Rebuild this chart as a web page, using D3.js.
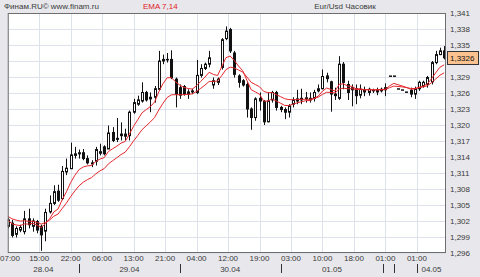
<!DOCTYPE html>
<html>
<head>
<meta charset="utf-8">
<script src="https://cdnjs.cloudflare.com/ajax/libs/d3/7.8.5/d3.min.js"></script>
<style>
  body { margin: 0; background: #e8e8ec; }
  svg { display: block; font-family: "Liberation Sans", Arial, sans-serif; }
  .grid line { stroke: #dde1ec; shape-rendering: crispEdges; }
  .lbl { font-size: 8px; fill: #3a3a3a; }
</style>
</head>
<body>
<div class="chartWrap"></div>
<script>
//Data - hourly EUR/USD candles, 28.04 07:00 .. 04.05
const open  = [1.3010,1.3016,1.2995,1.3003,1.3000,1.3024,1.3010,1.3019,1.3010,1.3001,1.3037,1.3053,1.3076,1.3062,1.3112,1.3118,1.3143,1.3146,1.3148,1.3137,1.3129,1.3132,1.3147,1.3159,1.3155,1.3186,1.3173,1.3180,1.3183,1.3180,1.3224,1.3239,1.3245,1.3261,1.3249,1.3252,1.3267,1.3320,1.3323,1.3323,1.3286,1.3270,1.3272,1.3258,1.3262,1.3261,1.3293,1.3306,1.3314,1.3275,1.3280,1.3308,1.3362,1.3379,1.3335,1.3292,1.3283,1.3276,1.3230,1.3214,1.3250,1.3244,1.3206,1.3247,1.3261,1.3233,1.3229,1.3224,1.3239,1.3245,1.3247,1.3249,1.3250,1.3250,1.3264,1.3268,1.3292,1.3281,1.3258,1.3250,1.3314,1.3276,1.3266,1.3268,1.3256,1.3266,1.3261,1.3264,1.3262,1.3264,1.3266,1.3292,1.3292,1.3268,1.3266,1.3262,1.3265,1.3258,1.3268,1.3273,1.3276,1.3281,1.3317,1.3332,1.3339];
const high  = [1.3026,1.3022,1.3010,1.3013,1.3039,1.3043,1.3025,1.3022,1.3013,1.3043,1.3068,1.3087,1.3088,1.3123,1.3137,1.3167,1.3159,1.3154,1.3155,1.3143,1.3134,1.3159,1.3165,1.3162,1.3199,1.3196,1.3213,1.3205,1.3193,1.3227,1.3249,1.3255,1.3280,1.3264,1.3261,1.3273,1.3339,1.3332,1.3335,1.3340,1.3289,1.3276,1.3275,1.3267,1.3268,1.3322,1.3314,1.3317,1.3339,1.3289,1.3289,1.3363,1.3385,1.3382,1.3339,1.3295,1.3286,1.3280,1.3233,1.3252,1.3261,1.3247,1.3261,1.3264,1.3264,1.3236,1.3233,1.3239,1.3252,1.3266,1.3268,1.3262,1.3261,1.3266,1.3276,1.3304,1.3298,1.3283,1.3270,1.3329,1.3318,1.3283,1.3276,1.3276,1.3276,1.3272,1.3270,1.3268,1.3270,1.3270,1.3278,1.3292,1.3292,1.3268,1.3266,1.3262,1.3270,1.3272,1.3283,1.3283,1.3292,1.3320,1.3339,1.3345,1.3348];
const low   = [1.3006,1.2989,1.2989,1.2999,1.2995,1.3006,1.3000,1.2997,1.2964,1.2982,1.3034,1.3050,1.3056,1.3059,1.3106,1.3118,1.3137,1.3137,1.3134,1.3126,1.3121,1.3124,1.3143,1.3143,1.3155,1.3168,1.3168,1.3171,1.3171,1.3171,1.3221,1.3236,1.3242,1.3244,1.3224,1.3242,1.3264,1.3314,1.3317,1.3286,1.3233,1.3249,1.3255,1.3249,1.3258,1.3258,1.3289,1.3303,1.3308,1.3268,1.3275,1.3304,1.3359,1.3335,1.3289,1.3270,1.3272,1.3214,1.3191,1.3208,1.3227,1.3200,1.3205,1.3242,1.3227,1.3224,1.3211,1.3214,1.3233,1.3239,1.3239,1.3242,1.3242,1.3244,1.3261,1.3267,1.3280,1.3225,1.3247,1.3247,1.3267,1.3247,1.3235,1.3239,1.3250,1.3254,1.3255,1.3260,1.3256,1.3261,1.3254,1.3292,1.3292,1.3268,1.3266,1.3262,1.3252,1.3249,1.3264,1.3270,1.3270,1.3276,1.3314,1.3331,1.3323];
const close = [1.3022,1.2993,1.3006,1.3008,1.3024,1.3013,1.3020,1.3003,1.2994,1.3036,1.3053,1.3075,1.3059,1.3113,1.3119,1.3144,1.3146,1.3148,1.3137,1.3129,1.3127,1.3154,1.3150,1.3146,1.3185,1.3171,1.3175,1.3183,1.3179,1.3224,1.3242,1.3247,1.3261,1.3247,1.3252,1.3268,1.3320,1.3323,1.3322,1.3289,1.3258,1.3256,1.3258,1.3262,1.3264,1.3293,1.3306,1.3314,1.3326,1.3283,1.3286,1.3360,1.3376,1.3339,1.3295,1.3280,1.3275,1.3230,1.3214,1.3249,1.3245,1.3206,1.3245,1.3261,1.3233,1.3229,1.3224,1.3236,1.3247,1.3249,1.3250,1.3251,1.3247,1.3261,1.3268,1.3291,1.3287,1.3258,1.3255,1.3314,1.3280,1.3261,1.3270,1.3255,1.3267,1.3262,1.3267,1.3265,1.3266,1.3267,1.3270,1.3292,1.3292,1.3268,1.3266,1.3262,1.3258,1.3268,1.3280,1.3280,1.3289,1.3317,1.3332,1.3339,1.3326];

const emaPeriods = [7, 14];
const emaStart = [1.3022, 1.3030]; //EMA levels just before the first candle
const timeLabels = ["07:00","15:00","22:00","06:00","13:00","21:00","04:00","12:00","19:00","03:00","10:00","18:00","01:00","01:00"];
const dayStarts = [0, 17, 41, 65, 89.5, 92, 97.5]; //candle index where each day begins
const dayLabels = ["28.04","29.04","30.04","01.05","","","04.05"];

//Variables
const w = 480, h = 277;
const margin = {top: 13, right: 446, bottom: 253, left: 7.7};
const n = close.length;

let svg = d3.select(".chartWrap").append("svg").attr("width", w).attr("height", h);

let x = d3.scaleLinear().domain([0, n - 1]).range([7.7, 444.2]);
let y = d3.scaleLinear().domain([1.296, 1.341]).range([margin.bottom, margin.top]);
const xEnd = x.invert(margin.right);
const last = close[n - 1];

//Plot background
svg.append("rect").attr("x", margin.left).attr("y", margin.top)
  .attr("width", margin.right - margin.left).attr("height", margin.bottom - margin.top)
  .attr("fill", "#fff");

//Grid
let yTicks = d3.range(0, 16).map(k => +(1.296 + 0.003 * k).toFixed(3));
let xTicks = timeLabels.map((t, i) => i * 7.5);
let grid = svg.append("g").attr("class", "grid");
grid.selectAll(".gy").data(yTicks).enter().append("line")
  .attr("x1", margin.left).attr("x2", margin.right)
  .attr("y1", d => Math.round(y(d)) + 0.5).attr("y2", d => Math.round(y(d)) + 0.5);
grid.selectAll(".gx").data(xTicks).enter().append("line")
  .attr("y1", margin.top).attr("y2", margin.bottom)
  .attr("x1", d => Math.round(x(d)) + 0.5).attr("x2", d => Math.round(x(d)) + 0.5);

//Clip for marks
svg.append("clipPath").attr("id", "plotClip").append("rect")
  .attr("x", margin.left).attr("y", margin.top)
  .attr("width", margin.right - margin.left).attr("height", margin.bottom - margin.top);
let plot = svg.append("g").attr("clip-path", "url(#plotClip)");

//Candles
let idx = d3.range(n);
plot.selectAll(".wick").data(idx).enter().append("line")
  .attr("x1", i => Math.round(x(i)) + 0.5).attr("x2", i => Math.round(x(i)) + 0.5)
  .attr("y1", i => y(high[i])).attr("y2", i => y(low[i]))
  .attr("stroke", "#111").attr("stroke-width", 1);
plot.selectAll(".body").data(idx).enter().append("rect")
  .attr("x", i => Math.round(x(i)) - 0.5)
  .attr("width", 2)
  .attr("y", i => y(Math.max(open[i], close[i])))
  .attr("height", i => Math.max(0.5, Math.abs(y(open[i]) - y(close[i]))))
  .attr("fill", i => close[i] < open[i] ? "#111" : "#fff")
  .attr("stroke", "#111").attr("stroke-width", 1);

//EMA lines
emaPeriods.forEach(function(p, k) {
  let a = 2 / (p + 1), prev = emaStart[k];
  let vals = close.map(function(c) { prev = prev + a * (c - prev); return prev; });
  plot.append("path").datum(vals)
    .attr("fill", "none").attr("stroke", "#e3262b").attr("stroke-width", 1)
    .attr("d", d3.line().x((d, i) => x(i)).y(d => y(d)));
});

//Frame
svg.append("rect").attr("x", margin.left + 0.5).attr("y", margin.top + 0.5)
  .attr("width", margin.right - margin.left - 1).attr("height", margin.bottom - margin.top - 1)
  .attr("fill", "none").attr("stroke", "#6e6e6e");

//Right axis labels (the one under the price box is hidden, as in the terminal)
svg.selectAll(".ylbl").data(yTicks.filter(d => Math.abs(y(d) - y(last)) > 9)).enter().append("text")
  .attr("class", "lbl").attr("x", 450).attr("y", d => y(d) + 3)
  .text(d => d.toFixed(3).replace(".", ","));

//Last price box
svg.append("rect").attr("x", 447.5).attr("y", Math.round(y(last)) - 6.5)
  .attr("width", 31).attr("height", 13).attr("fill", "#fbc28f").attr("stroke", "#333");
svg.append("text").attr("class", "lbl").attr("x", 450).attr("y", y(last) + 3)
  .style("fill", "#111").text(last.toFixed(4).replace(".", ","));

//Time labels
svg.selectAll(".tlbl").data(timeLabels).enter().append("text")
  .attr("class", "lbl").attr("text-anchor", (d, i) => i === 0 ? "start" : "middle")
  .attr("x", (d, i) => i === 0 ? 0 : x(xTicks[i])).attr("y", 261).text(d => d);

//Day separators and labels
svg.selectAll(".dsep").data(dayStarts.slice(1)).enter().append("line")
  .attr("x1", d => Math.round(x(d)) + 0.5).attr("x2", d => Math.round(x(d)) + 0.5)
  .attr("y1", 264).attr("y2", 273).attr("stroke", "#333");
svg.selectAll(".dlbl").data(dayLabels).enter().append("text")
  .attr("class", "lbl").attr("text-anchor", "middle")
  .attr("x", (d, i) => x((dayStarts[i] + (i < dayStarts.length - 1 ? dayStarts[i + 1] : xEnd)) / 2))
  .attr("y", 272).text(d => d);

//Header
svg.append("text").attr("class", "lbl").attr("x", 4).attr("y", 9).text("Финам.RU© www.finam.ru");
svg.append("text").attr("class", "lbl").attr("x", 143).attr("y", 9).style("fill", "#e0201c").text("EMA 7,14");
svg.append("text").attr("class", "lbl").attr("x", 345).attr("y", 9).attr("text-anchor", "middle").text("Eur/Usd Часовик");
</script>
</body>
</html>
